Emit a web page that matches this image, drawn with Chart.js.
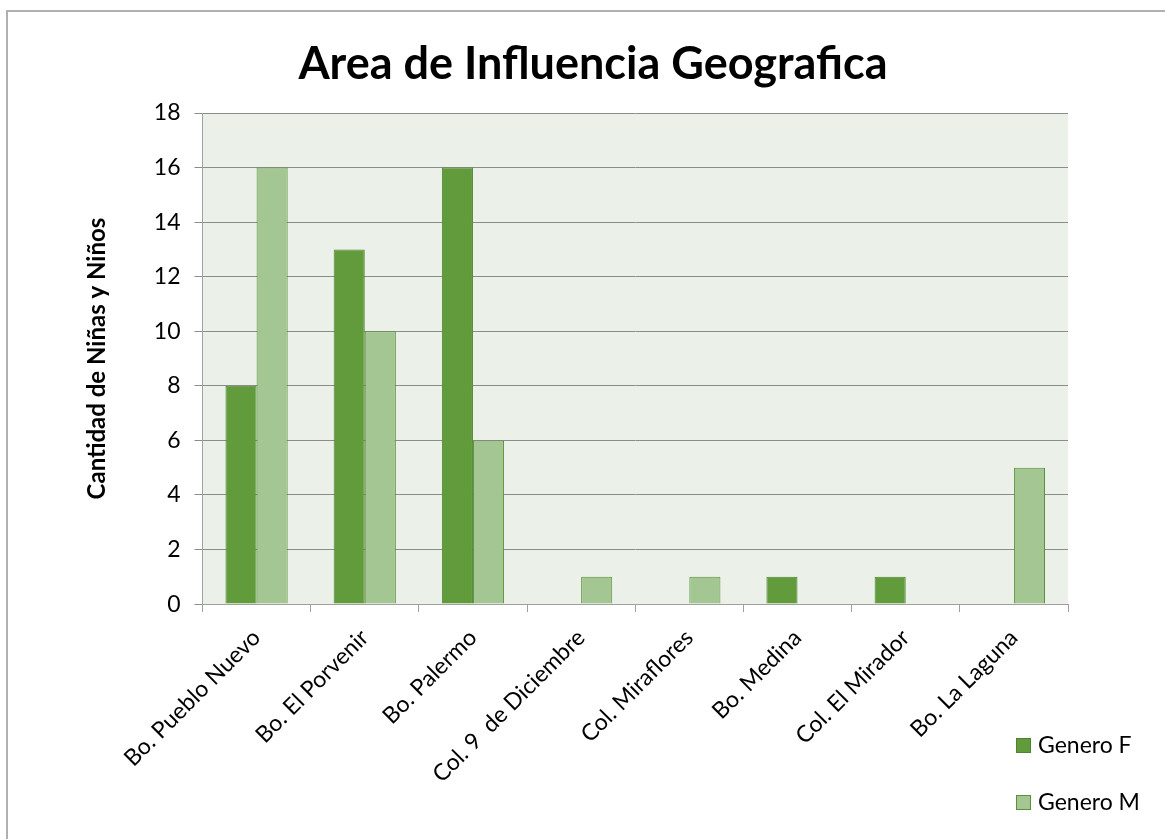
<!DOCTYPE html>
<html>
<head>
<meta charset="utf-8">
<script src="https://cdn.jsdelivr.net/npm/chart.js@4.4.1/dist/chart.umd.min.js"></script>
<style>
  html, body { margin: 0; padding: 0; background: #ffffff; overflow: hidden; }
  #wrap { position: relative; width: 1165px; height: 839px; }
  #frame { position: absolute; left: 6px; top: 10px; width: 1200px; height: 900px;
           border-left: 2px solid #b0b0b0; border-top: 2px solid #b0b0b0; pointer-events: none; }
  canvas { position: absolute; left: 0; top: 0; }
</style>
</head>
<body>
<div id="wrap">
  <canvas id="c" width="1165" height="839"></canvas>
  <div id="frame"></div>
</div>
<script>
const chartTitle = "Area de Influencia Geografica";
const yAxisTitle = "Cantidad de Niñas y Niños";
const categories = ["Bo. Pueblo Nuevo", "Bo. El Porvenir", "Bo. Palermo", "Col. 9  de Diciembre", "Col. Miraflores", "Bo. Medina", "Col. El Mirador", "Bo. La Laguna"];
const seriesNames = ["Genero F", "Genero M"];
const generoF = [8, 13, 16, 0, 0, 1, 1, 0];
const generoM = [16, 10, 6, 1, 1, 0, 0, 5];
const yTicks = [0, 2, 4, 6, 8, 10, 12, 14, 16, 18];

const FONT = "Lato, 'Open Sans', sans-serif";

const plotBg = {
  id: 'plotBg',
  beforeDraw(chart) {
    const {ctx, chartArea: a} = chart;
    ctx.save();
    ctx.fillStyle = '#ebf1e9';
    ctx.fillRect(a.left, a.top, a.right - a.left, a.bottom - a.top);
    ctx.restore();
  }
};

const customTexts = {
  id: 'customTexts',
  afterDraw(chart) {
    const {ctx} = chart;
    ctx.save();
    ctx.fillStyle = '#000';
    ctx.font = "bold 45px " + FONT;
    ctx.textAlign = 'center';
    ctx.textBaseline = 'middle';
    ctx.fillText(chartTitle, 593, 64);
    ctx.font = "23px " + FONT;
    ctx.textAlign = 'left';
    chart.data.datasets.forEach((ds, i) => {
      const y = 746 + i * 57;
      ctx.fillStyle = ds.backgroundColor;
      ctx.fillRect(1016, y - 8, 15, 15);
      ctx.strokeStyle = ds.borderColor;
      ctx.lineWidth = 1;
      ctx.strokeRect(1016.5, y - 7.5, 14, 14);
      ctx.fillStyle = '#000';
      ctx.fillText(ds.label, 1038, y);
    });
    ctx.restore();
  }
};

new Chart(document.getElementById('c'), {
  type: 'bar',
  data: {
    labels: categories,
    datasets: [
      { label: seriesNames[0], data: generoF, backgroundColor: '#629b3c', borderColor: '#4e8430', borderWidth: 1 },
      { label: seriesNames[1], data: generoM, backgroundColor: '#a4c692', borderColor: '#5a9138', borderWidth: 1 }
    ]
  },
  options: {
    responsive: false,
    animation: false,
    devicePixelRatio: 1,
    layout: { padding: { left: 83, right: 97, top: 113, bottom: 39 } },
    datasets: { bar: { categoryPercentage: 0.575, barPercentage: 1.0 } },
    plugins: {
      legend: { display: false },
      title: { display: false },
      tooltip: { enabled: false }
    },
    scales: {
      x: {
        grid: { display: true, drawOnChartArea: false, drawTicks: true, tickLength: 8, color: '#a0a0a0', offset: true },
        border: { display: true, color: '#a0a0a0', width: 1 },
        ticks: { color: '#000', font: { family: FONT, size: 23 }, minRotation: 45, maxRotation: 45, padding: 12, autoSkip: false }
      },
      y: {
        min: 0, max: 18,
        afterBuildTicks(axis) { axis.ticks = yTicks.map(v => ({ value: v })); },
        grid: { color: '#8c8c8c', tickLength: 8, drawTicks: true },
        border: { display: true, color: '#a0a0a0', width: 1 },
        ticks: { color: '#000', font: { family: FONT, size: 23 }, padding: 14 },
        title: { display: true, text: yAxisTitle, color: '#000', font: { family: FONT, size: 24, weight: 'bold' }, padding: { top: 0, bottom: 28 } }
      }
    }
  },
  plugins: [plotBg, customTexts]
});
</script>
</body>
</html>
